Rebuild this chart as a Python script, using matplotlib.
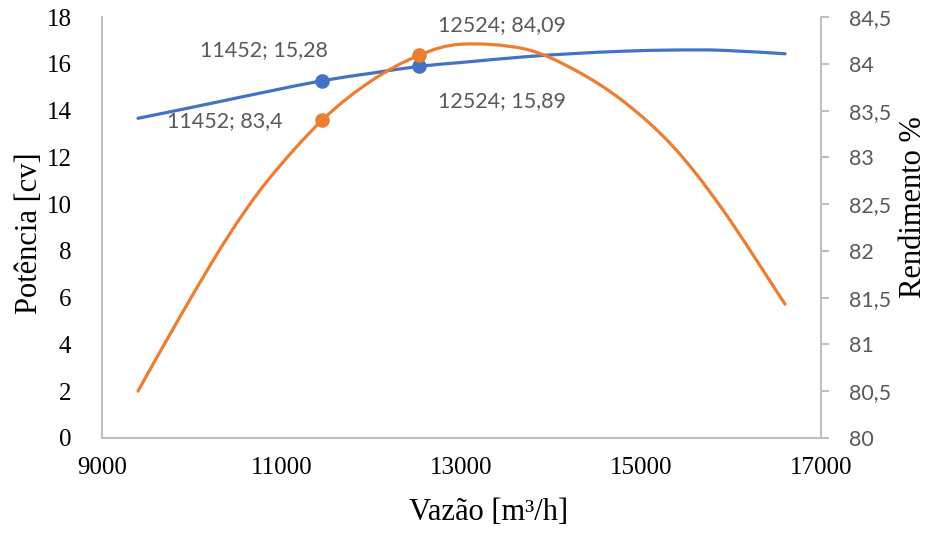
import matplotlib
matplotlib.use("Agg")
import matplotlib.pyplot as plt
from matplotlib.path import Path
from matplotlib.patches import PathPatch
from matplotlib.ticker import FuncFormatter

# data (flow in m3/h)
vazao = [9400, 9900, 10400, 10850, 11452, 12000, 12524, 13000,
         13700, 14250, 14800, 15350, 15900, 16600]
potencia = [13.67, 14.06, 14.46, 14.82, 15.28, 15.60, 15.89, 16.06,
            16.30, 16.44, 16.54, 16.59, 16.58, 16.43]
rendimento = [80.50, 81.35, 82.15, 82.76, 83.40, 83.82, 84.09, 84.21,
              84.16, 83.94, 83.60, 83.12, 82.45, 81.43]

# the two highlighted points
marc_x = [11452, 12524]
marc_pot = [15.28, 15.89]
marc_rend = [83.4, 84.09]
rot_pot = ["11452; 15,28", "12524; 15,89"]
rot_rend = ["11452; 83,4", "12524; 84,09"]

azul = "#4472C4"
laranja = "#ED7D31"
cinza = "#BFBFBF"
texto_cinza = "#595959"
serif = "Liberation Serif"
sans = "Lato"


def linha_suave(ax, xs, ys, cor):
    # smoothed line like Excel: cubic bezier segments (catmull-rom handles)
    pts = list(zip(xs, ys))
    verts = [pts[0]]
    codes = [Path.MOVETO]
    n = len(pts)
    for i in range(n - 1):
        p0 = pts[max(i - 1, 0)]
        p1 = pts[i]
        p2 = pts[i + 1]
        p3 = pts[min(i + 2, n - 1)]
        c1 = (p1[0] + (p2[0] - p0[0]) / 6, p1[1] + (p2[1] - p0[1]) / 6)
        c2 = (p2[0] - (p3[0] - p1[0]) / 6, p2[1] - (p3[1] - p1[1]) / 6)
        verts += [c1, c2, p2]
        codes += [Path.CURVE4] * 3
    ax.add_patch(PathPatch(Path(verts, codes), fill=False, edgecolor=cor,
                           lw=2.3, capstyle="round", zorder=3))


fig = plt.figure(figsize=(9.31, 5.34), dpi=100)
ax = fig.add_axes([0.1096, 0.18, 0.7722, 0.788])
ax2 = ax.twinx()

linha_suave(ax, vazao, potencia, azul)
ax.plot(marc_x, marc_pot, "o", color=azul, ms=9.5, zorder=4)
linha_suave(ax2, vazao, rendimento, laranja)
ax2.plot(marc_x, marc_rend, "o", color=laranja, ms=9.5, zorder=4)

# --- axes ranges / ticks ---
ax.set_xlim(9000, 17000)
ax.set_ylim(0, 18)
ax2.set_ylim(80, 84.5)
ax.set_xticks(range(9000, 17001, 2000))
ax.set_yticks(range(0, 19, 2))
ax2.set_yticks([80 + 0.5 * i for i in range(10)])
ax2.yaxis.set_major_formatter(FuncFormatter(lambda v, p: f"{v:g}".replace(".", ",")))

ax.spines["top"].set_visible(False)
ax2.spines["top"].set_visible(False)
ax2.spines["left"].set_visible(False)
ax2.spines["bottom"].set_visible(False)
ax.spines["right"].set_visible(False)
for sp in [ax.spines["left"], ax.spines["bottom"], ax2.spines["right"]]:
    sp.set_color(cinza)
    sp.set_linewidth(1.5)

ax.tick_params(axis="both", length=0, labelsize=18, labelcolor="black")
ax.tick_params(axis="y", pad=22)
ax.tick_params(axis="x", pad=14)
for lab in ax.get_xticklabels() + ax.get_yticklabels():
    lab.set_fontfamily(serif)
ax2.tick_params(axis="y", length=6, width=1.5, color=cinza, pad=14,
                labelsize=15.5, labelcolor=texto_cinza)
for lab in ax2.get_yticklabels():
    lab.set_fontfamily(sans)

# --- axis titles ---
ax.set_xlabel("Vazão [m³/h]", fontsize=22, family=serif)
ax.xaxis.set_label_coords(0.537, -0.178)
ax.xaxis.label.set_va("center")
ax.set_ylabel("Potência [cv]", fontsize=22, family=serif)
ax.yaxis.set_label_coords(-0.1015, 0.487)
ax.yaxis.label.set_va("center")
ax2.set_ylabel("Rendimento %", fontsize=22, family=serif)
ax2.yaxis.set_label_coords(1.129, 0.549)
ax2.yaxis.label.set_va("center")

# --- data labels (offsets in points) ---
off_pot = [(-42, 22), (60, -25)]
off_rend = [(-70, -1), (60, 22)]
for i in range(2):
    ax.annotate(rot_pot[i], (marc_x[i], marc_pot[i]), xytext=off_pot[i],
                textcoords="offset points", ha="center", va="center",
                fontsize=15.5, family=sans, color=texto_cinza)
    ax2.annotate(rot_rend[i], (marc_x[i], marc_rend[i]), xytext=off_rend[i],
                 textcoords="offset points", ha="center", va="center",
                 fontsize=15.5, family=sans, color=texto_cinza)

fig.savefig("out.png", dpi=100)
